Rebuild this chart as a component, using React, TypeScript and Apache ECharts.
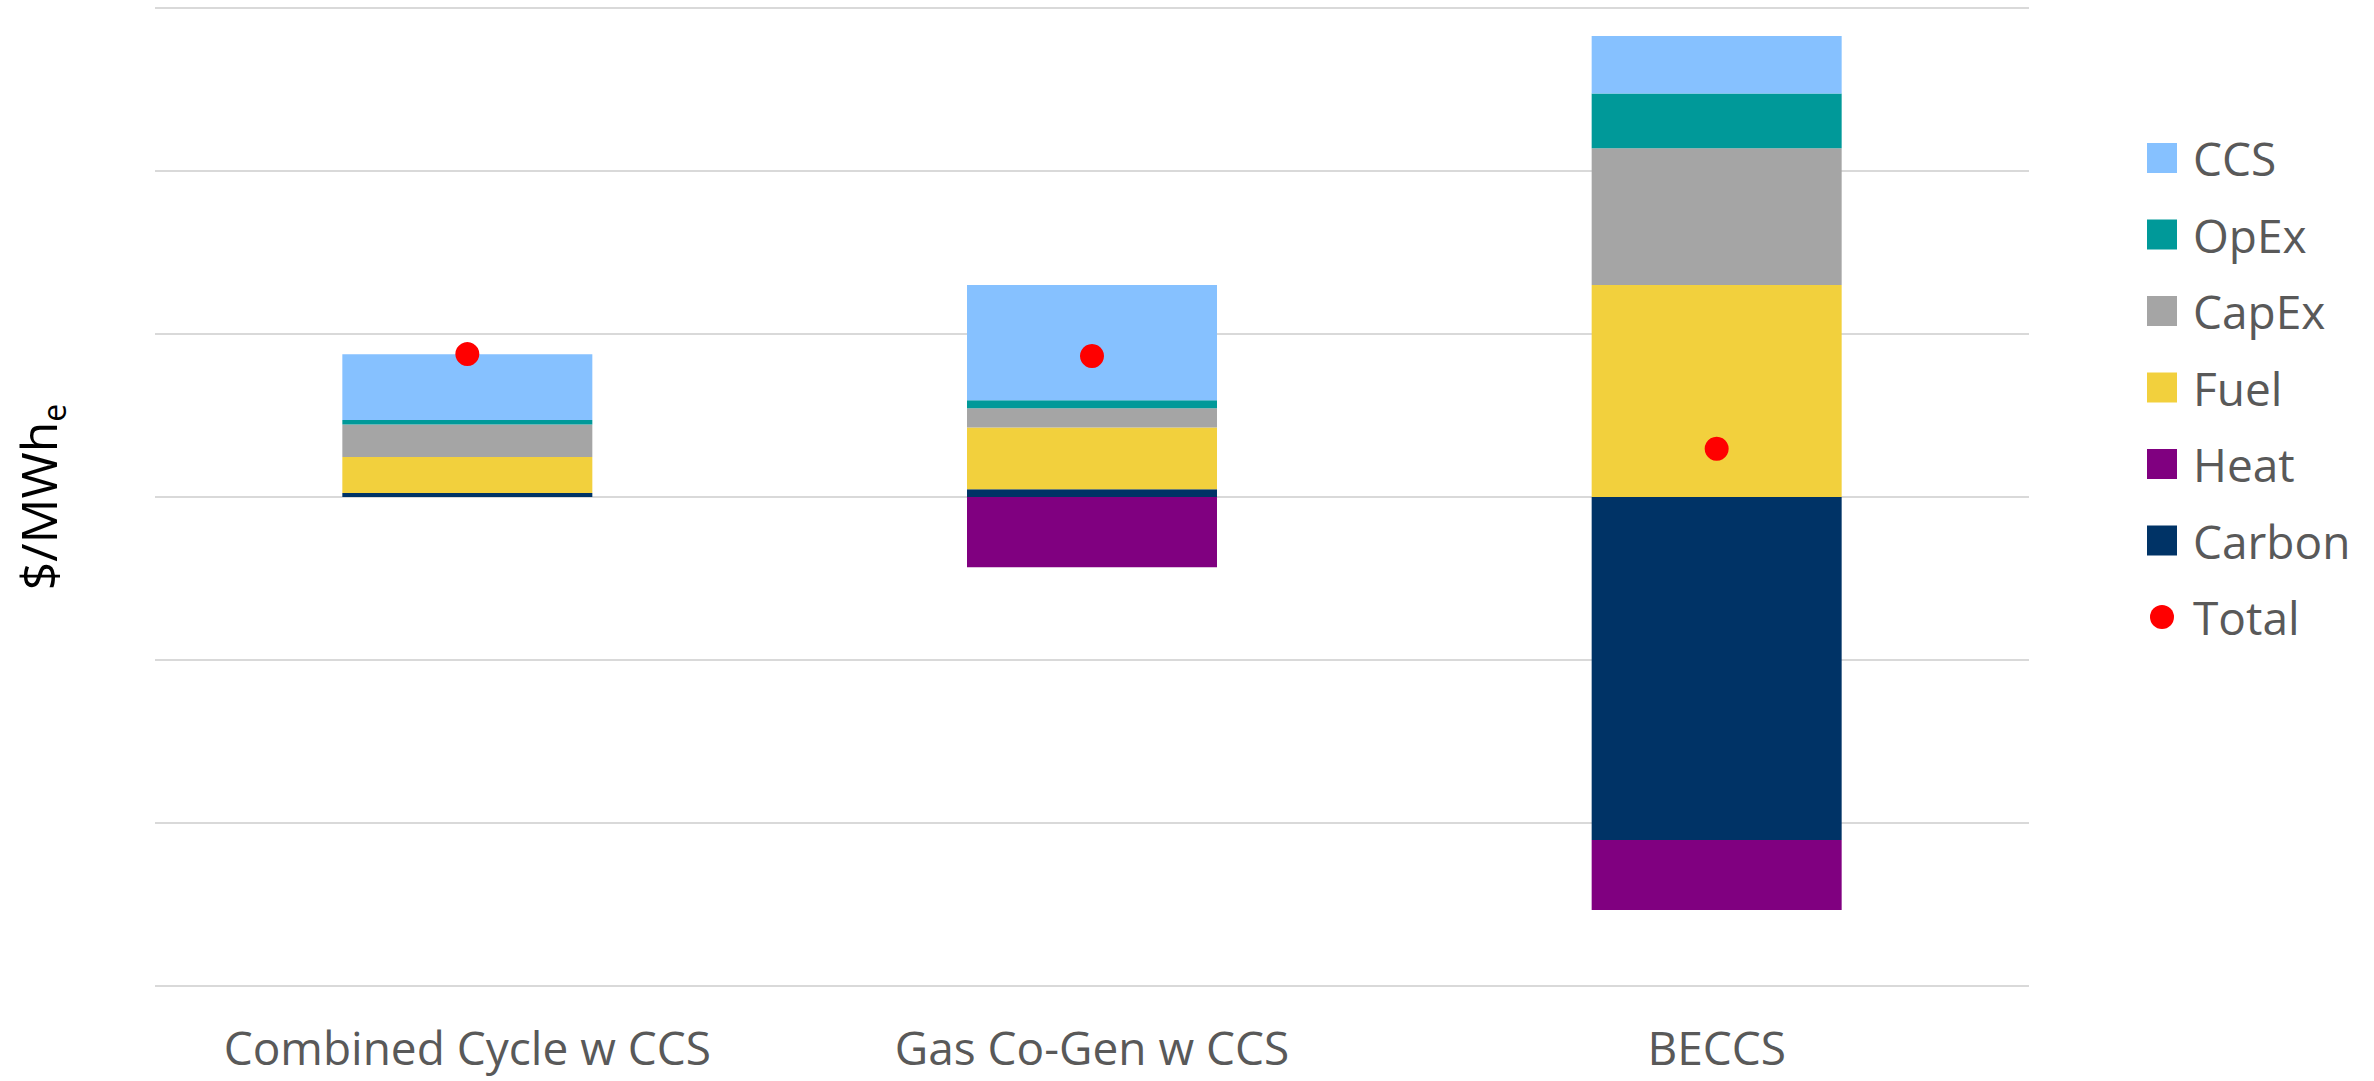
import React, { useEffect, useRef } from "react";
import * as echarts from "echarts";

// Levelized cost breakdown per technology ($/MWh electric)
const categories = ["Combined Cycle w CCS", "Gas Co-Gen w CCS", "BECCS"];

const carbon = [2.5, 4.7, -210.4];
const heat = [0, -43.1, -42.9];
const fuel = [22, 38, 130];
const capex = [20, 11.8, 84];
const opex = [2.8, 4.9, 33.6];
const ccs = [40.3, 70.6, 35.2];
const total = [87.7, 86.5, 29.6];

const yMin = -300;
const yMax = 300;
const yStep = 100;

const legendOrder = ["CCS", "OpEx", "CapEx", "Fuel", "Heat", "Carbon", "Total"];

const FONT = "'Open Sans', 'Noto Sans', sans-serif";
const TEXT = "#595959";

// Legend dot: a 24px circle centred in a 30px box so it sits beside the 30px squares
const DOT_ICON = "path://M0,0M30,30M27,15A12,12,0,1,1,3,15A12,12,0,1,1,27,15Z";

export default function App() {
  const ref = useRef<HTMLDivElement>(null);

  useEffect(() => {
    if (!ref.current) return;
    const chart = echarts.init(ref.current, undefined, { renderer: "svg" });

    const bar = (name: string, data: number[], color: string) => ({
      name,
      type: "bar",
      stack: "cost",
      barWidth: 250,
      data,
      itemStyle: { color },
      emphasis: { disabled: true },
    });

    chart.setOption({
      animation: false,
      backgroundColor: "#ffffff",
      textStyle: { fontFamily: FONT },
      grid: { left: 155, top: 8, width: 1874, height: 978 },
      legend: {
        orient: "vertical",
        left: 2142,
        top: 129,
        itemWidth: 30,
        itemHeight: 30,
        itemGap: 28.5,
        data: legendOrder.map((n) => ({ name: n, icon: n === "Total" ? DOT_ICON : "rect" })),
        textStyle: {
          fontFamily: FONT,
          fontSize: 46,
          lineHeight: 48,
          color: TEXT,
          padding: [0, 0, 0, 11],
        },
      },
      xAxis: {
        type: "category",
        data: categories,
        axisLine: { show: false, onZero: false },
        axisTick: { show: false },
        axisLabel: {
          interval: 0,
          fontFamily: FONT,
          fontSize: 46,
          color: TEXT,
          margin: 38,
        },
      },
      yAxis: {
        type: "value",
        min: yMin,
        max: yMax,
        interval: yStep,
        axisLabel: { show: false },
        axisLine: { show: false },
        axisTick: { show: false },
        splitLine: { lineStyle: { color: "#d9d9d9", width: 2 } },
        name: "{a|$/MWh}{b|e}",
        nameLocation: "middle",
        nameRotate: 90,
        nameGap: 86,
        nameTextStyle: {
          rich: {
            a: { fontFamily: FONT, fontSize: 50, lineHeight: 62, color: "#000000" },
            b: {
              fontFamily: FONT,
              fontSize: 32,
              lineHeight: 34,
              verticalAlign: "bottom",
              color: "#000000",
            },
          },
        },
      },
      series: [
        bar("Carbon", carbon, "#003366"),
        bar("Heat", heat, "#800080"),
        bar("Fuel", fuel, "#F2D03D"),
        bar("CapEx", capex, "#A5A5A5"),
        bar("OpEx", opex, "#009999"),
        bar("CCS", ccs, "#86C1FF"),
        {
          name: "Total",
          type: "scatter",
          data: total,
          symbol: "circle",
          symbolSize: 24,
          itemStyle: { color: "#FF0000", opacity: 1 },
          z: 10,
          emphasis: { disabled: true },
        },
      ],
    });

    return () => chart.dispose();
  }, []);

  return (
    <div
      ref={ref}
      style={{ position: "absolute", left: 0, top: 0, width: 2374, height: 1081 }}
    />
  );
}
